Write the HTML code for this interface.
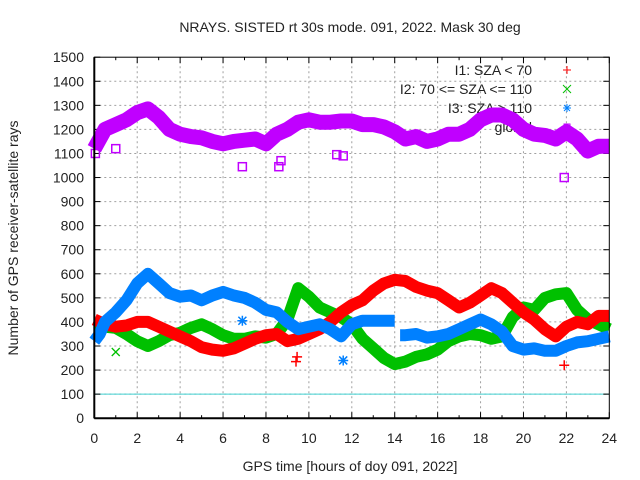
<!DOCTYPE html>
<html><head><meta charset="utf-8"><style>
body{margin:0;background:#fff;}
svg{display:block;font-family:"Liberation Sans",sans-serif;}
</style></head><body>
<svg id="chart" width="640" height="480" viewBox="0 0 640 480" xmlns="http://www.w3.org/2000/svg">
<rect width="640" height="480" fill="#fff"/>
<text x="350" y="32" font-size="14" text-anchor="middle" fill="#222">NRAYS. SISTED rt 30s mode. 091, 2022. Mask 30 deg</text>
<text transform="translate(18,238) rotate(-90)" font-size="14" text-anchor="middle" fill="#222">Number of GPS receiver-satellite rays</text>
<text x="350" y="471" font-size="14" text-anchor="middle" fill="#222">GPS time [hours of doy 091, 2022]</text>
<g id="grid"></g><g id="ticks"></g><g id="legend"></g><g id="series"></g><g id="frame"></g>
</svg>
<script>
const hours=[0,0.5,1,1.5,2,2.5,3,3.5,4,4.5,5,5.5,6,6.5,7,7.5,8,8.5,9,9.5,10,10.5,11,11.5,12,12.5,13,13.5,14,14.5,15,15.5,16,16.5,17,17.5,18,18.5,19,19.5,20,20.5,21,21.5,22,22.5,23,23.5,24];
const i1Values=[410,390,380,385,400,400,380,360,340,320,295,285,280,290,310,330,345,350,320,330,350,370,400,440,470,490,530,560,575,570,545,530,520,490,460,480,510,540,520,480,440,410,370,340,380,400,390,425,425];
const i2Values=[370,380,375,350,320,300,320,345,355,375,390,370,345,330,330,340,335,350,410,540,505,460,440,420,390,330,290,250,225,235,255,265,285,320,340,350,345,330,340,420,460,450,500,515,520,450,410,390,370];
const i3Hours=[0,0.25,0.5,1,1.5,2,2.5,3,3.5,4,4.5,5,5.5,6,6.5,7,7.5,8,8.5,9,9.5,10,10.5,11,11.5,12,12.5,13,13.5,14,14.25,14.5,15,15.5,16,16.5,17,17.5,18,18.5,19,19.5,20,20.5,21,21.5,22,22.5,23,23.5,24];
const i3Values=[320,350,400,440,490,560,600,560,520,505,510,490,510,525,510,500,480,450,440,400,370,380,390,370,340,390,405,405,405,405,345,345,350,335,340,350,370,390,410,390,360,300,285,290,280,280,300,315,320,330,340];
const i3Gap=14.1;
const globalValues=[1120,1200,1220,1240,1270,1285,1250,1200,1180,1170,1165,1150,1140,1150,1155,1160,1140,1180,1200,1230,1240,1230,1230,1235,1235,1220,1220,1210,1190,1160,1170,1150,1160,1180,1180,1200,1240,1260,1260,1240,1200,1180,1175,1160,1190,1160,1110,1130,1130];
const globalOutH=[0.05,1,6.9,8.6,8.7,11.3,11.6,21.9];
const globalOutV=[1100,1120,1045,1045,1070,1095,1090,1000];
const i1OutH=[9.4,9.45,21.9];
const i1OutV=[235,255,220];
const i2OutH=[1];
const i2OutV=[275];
const i3OutH=[6.9,11.6];
const i3OutV=[405,240];
const yTicks=[0,100,200,300,400,500,600,700,800,900,1000,1100,1200,1300,1400,1500];
const xTicks=[0,2,4,6,8,10,12,14,16,18,20,22,24];
const legendLabels=["I1: SZA < 70","I2: 70 <= SZA <= 110","I3: SZA > 110","global"];

const X0=94.3,X1=609.3,Y0=418.2,Y1=57.2;
const sx=h=>X0+(h/24)*(X1-X0);
const sy=v=>Y0-(v/1500)*(Y0-Y1);
const NS="http://www.w3.org/2000/svg";
function mk(tag,attrs,parent){const e=document.createElementNS(NS,tag);for(const k in attrs)e.setAttribute(k,attrs[k]);parent.appendChild(e);return e;}
const grid=document.getElementById('grid'),ticks=document.getElementById('ticks'),legend=document.getElementById('legend'),series=document.getElementById('series'),frame=document.getElementById('frame');

yTicks.forEach(v=>{
  const y=sy(v);
  if(v>0&&v<1500){const g=mk('line',{x1:X0,x2:X1,y1:y,y2:y,stroke:'#a0a0a0','stroke-dasharray':'2,3','stroke-width':1},grid);
  
  }
  mk('line',{x1:X0,x2:X0+6,y1:y,y2:y,stroke:'#000'},ticks);
  mk('line',{x1:X1,x2:X1-6,y1:y,y2:y,stroke:'#000'},ticks);
  const t=mk('text',{x:84,y:y+5,'font-size':14,'text-anchor':'end',fill:'#222'},ticks);t.textContent=v;
  
  
});
for(let h=0;h<=24;h++){
  const x=sx(h);const major=h%2===0;
  if(major&&h>0&&h<24){const g=mk('line',{x1:x,x2:x,y1:Y0,y2:Y1,stroke:'#a0a0a0','stroke-dasharray':'2,3'},grid);
  
  }
  mk('line',{x1:x,x2:x,y1:Y0,y2:Y0-(major?6:3),stroke:'#000'},ticks);
  mk('line',{x1:x,x2:x,y1:Y1,y2:Y1+(major?6:3),stroke:'#000'},ticks);
}
xTicks.forEach(h=>{const t=mk('text',{x:sx(h),y:443,'font-size':14,'text-anchor':'middle',fill:'#222'},ticks);t.textContent=h;
  
  });
const ref=mk('line',{x1:X0,x2:X1,y1:sy(100),y2:sy(100),stroke:'#40d0d0','stroke-width':1},grid);



const colors=['#ff0000','#00c000','#0080ff','#c000ff'];
legendLabels.forEach((l,i)=>{const y=75+i*19;
  const t=mk('text',{x:532,y:y,'font-size':14,'text-anchor':'end',fill:'#222'},legend);t.textContent=l;
  
  
  const mx=567,my=y-5;
  if(i===0){mk('path',{d:`M${mx-4},${my}h8M${mx},${my-4}v8`,stroke:colors[0]},legend);}
  if(i===1){mk('path',{d:`M${mx-4},${my-4}l8,8M${mx-4},${my+4}l8,-8`,stroke:colors[1]},legend);}
  if(i===2){mk('path',{d:`M${mx-4},${my}h8M${mx},${my-4}v8M${mx-3},${my-3}l6,6M${mx-3},${my+3}l6,-6`,stroke:colors[2]},legend);}
  if(i===3){mk('rect',{x:mx-3,y:my-3,width:6,height:6,fill:'none',stroke:colors[3]},legend);}
});

function band(hs,vs,color,w,name,gap){
  let segs=[[]];
  hs.forEach((h,i)=>{
    if(gap!==undefined&&i>0&&hs[i-1]<gap&&h>gap)segs.push([]);
    segs[segs.length-1].push(sx(h).toFixed(1)+','+sy(vs[i]).toFixed(1));
  });
  segs.forEach(s=>{const p=mk('polyline',{points:s.join(' '),fill:'none',stroke:color,'stroke-width':w,'stroke-linejoin':'round','stroke-linecap':'butt'},series);
  
  });
}
function outliers(hs,vs,color,name,type){
  hs.forEach((h,i)=>{const x=sx(h),y=sy(vs[i]);let e;
    if(type==='sq')e=mk('rect',{x:x-4,y:y-4,width:8,height:8,fill:'none',stroke:color,'stroke-width':1.5},series);
    else if(type==='plus')e=mk('path',{d:`M${x-5},${y}h10M${x},${y-5}v10`,stroke:color,'stroke-width':1.5},series);
    else if(type==='x')e=mk('path',{d:`M${x-4},${y-4}l8,8M${x-4},${y+4}l8,-8`,stroke:color,'stroke-width':1.3},series);
    else e=mk('path',{d:`M${x-5},${y}h10M${x},${y-5}v10M${x-4},${y-4}l8,8M${x-4},${y+4}l8,-8`,stroke:color,'stroke-width':1.5},series);
    
    
  });
}
band(hours,globalValues,colors[3],15,'global-series');
outliers(globalOutH,globalOutV,colors[3],'global-outlier','sq');
band(hours,i2Values,colors[1],12,'i2-series');
outliers(i2OutH,i2OutV,colors[1],'i2-outlier','x');
band(hours,i1Values,colors[0],12,'i1-series');
outliers(i1OutH,i1OutV,colors[0],'i1-outlier','plus');
band(i3Hours,i3Values,colors[2],12,'i3-series',i3Gap);
outliers(i3OutH,i3OutV,colors[2],'i3-outlier','star');

const f=mk('rect',{x:X0,y:Y1,width:X1-X0,height:Y0-Y1,fill:'none',stroke:'#000','stroke-width':1},frame);


mk('line',{x1:X0,x2:X0,y1:Y1,y2:Y0,stroke:'#000','stroke-width':2},frame);
mk('line',{x1:X0,x2:X1,y1:Y0,y2:Y0,stroke:'#000','stroke-width':2},frame);
</script>
</body></html>
